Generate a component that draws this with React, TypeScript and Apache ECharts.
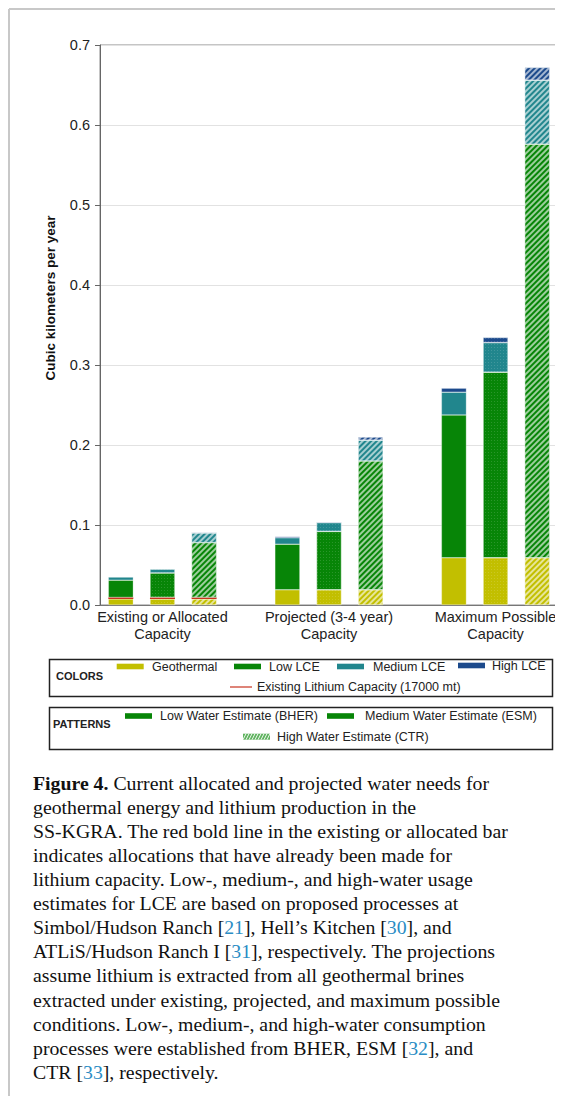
import React, { useEffect, useRef } from "react";
import * as echarts from "echarts";

// ---------- data ----------
const groupLabels = [
  "Existing or Allocated\nCapacity",
  "Projected (3-4 year)\nCapacity",
  "Maximum Possible\nCapacity",
];
const waterEstimates = ["BHER", "ESM", "CTR"]; // low / medium / high water estimate
// one value per bar: [group1 BHER, ESM, CTR, group2 BHER, ESM, CTR, group3 BHER, ESM, CTR]
const geothermal = [0.0075, 0.0075, 0.0075, 0.019, 0.019, 0.019, 0.059, 0.059, 0.059];
const existingLithium = [0.002, 0.002, 0.002, 0, 0, 0, 0, 0, 0];
const lowLCE = [0.0215, 0.0305, 0.0685, 0.057, 0.073, 0.161, 0.1785, 0.232, 0.517];
const mediumLCE = [0.004, 0.005, 0.012, 0.008, 0.011, 0.026, 0.0285, 0.037, 0.08];
const highLCE = [0.0005, 0.0005, 0.001, 0.0015, 0.001, 0.004, 0.005, 0.0065, 0.016];
const yMin = 0;
const yMax = 0.7;
const yStep = 0.1;

const yTitle = "Cubic kilometers per year";
const colorLegend = ["Geothermal", "Low LCE", "Medium LCE", "High LCE"];
const redLegend = "Existing Lithium Capacity (17000 mt)";
const patternLegend = ["Low Water Estimate (BHER)", "Medium Water Estimate (ESM)", "High Water Estimate (CTR)"];
const captionLines = [
  "{b|Figure 4.} Current allocated and projected water needs for",
  "geothermal energy and lithium production in the",
  "SS-KGRA. The red bold line in the existing or allocated bar",
  "indicates allocations that have already been made for",
  "lithium capacity. Low-, medium-, and high-water usage",
  "estimates for LCE are based on proposed processes at",
  "Simbol/Hudson Ranch [{c|21}], Hell’s Kitchen [{c|30}], and",
  "ATLiS/Hudson Ranch I [{c|31}], respectively. The projections",
  "assume lithium is extracted from all geothermal brines",
  "extracted under existing, projected, and maximum possible",
  "conditions. Low-, medium-, and high-water consumption",
  "processes were established from BHER, ESM [{c|32}], and",
  "CTR [{c|33}], respectively.",
];

// ---------- styles ----------
const C = {
  geo: "#c2bf00",
  red: "#c8321e",
  low: "#078507",
  med: "#21868d",
  high: "#1c4a8c",
};
const SANS = '"Liberation Sans", Arial, sans-serif';
const SERIF = '"Liberation Serif", "Times New Roman", serif';

const dotted: any = {
  symbol: "rect",
  symbolSize: 1,
  dashArrayX: [1, 2],
  dashArrayY: [1, 2],
  color: "rgba(255,255,255,0.14)",
};
const hatch: any = {
  symbol: "rect",
  symbolSize: 1,
  dashArrayX: [1, 0],
  dashArrayY: [1.3, 1.5],
  rotation: -Math.PI / 4,
  color: "rgba(255,255,255,0.6)",
};

const slots: string[] = [];
groupLabels.forEach((g, gi) => {
  waterEstimates.forEach((w) => slots.push(g + "|" + w));
  if (gi < groupLabels.length - 1) slots.push("gap" + gi);
});

function makeSeries(name: string, vals: number[], color: string, usePattern = true) {
  let k = 0;
  const data = slots.map((s) => {
    if (s.startsWith("gap")) return "-";
    const v = vals[k];
    const p = k % 3;
    k++;
    if (!v) return "-";
    const decal = usePattern ? (p === 1 ? dotted : p === 2 ? hatch : null) : null;
    return { value: v, itemStyle: decal ? { color, decal } : { color } };
  });
  return {
    type: "bar",
    name,
    stack: "total",
    barWidth: 25,
    data,
    itemStyle: { color, borderColor: "rgba(255,255,255,0.55)", borderWidth: usePattern ? 0.5 : 0 },
    emphasis: { disabled: true },
  };
}

function buildGraphic() {
  const g: any[] = [];
  // page frame
  g.push({ type: "line", shape: { x1: 1, y1: 1, x2: 560, y2: 1 }, style: { stroke: "#c8c8c8", lineWidth: 2 } });
  g.push({ type: "line", shape: { x1: 1, y1: 1, x2: 1, y2: 1100 }, style: { stroke: "#c8c8c8", lineWidth: 2 } });
  // y title
  g.push({
    type: "text",
    x: 42,
    y: 290,
    rotation: Math.PI / 2,
    style: { text: yTitle, font: `bold 13.5px ${SANS}`, fill: "#111", align: "center", verticalAlign: "middle" },
  });
  // legend boxes
  g.push({ type: "rect", shape: { x: 41.5, y: 651.5, width: 503, height: 37 }, style: { fill: "none", stroke: "#222", lineWidth: 1.5 } });
  g.push({ type: "rect", shape: { x: 41.5, y: 699.5, width: 503, height: 42 }, style: { fill: "none", stroke: "#222", lineWidth: 1.5 } });
  const lab = (text: string, x: number, y: number, bold = false) => ({
    type: "text",
    x,
    y,
    style: {
      text,
      font: bold ? `bold 11px ${SANS}` : `12.5px ${SANS}`,
      fill: "#222",
      align: "left",
      verticalAlign: "middle",
    },
  });
  const sw = (x: number, y: number, color: string) => ({
    type: "rect",
    shape: { x, y: y - 2.8, width: 27, height: 5.6 },
    style: { fill: color },
  });
  g.push(lab("COLORS", 48, 668, true));
  const colorSw = [C.geo, C.low, C.med, C.high];
  const csx = [108.7, 226, 329, 450];
  const ctx = [144, 261, 365, 484];
  const cy = [658.5, 658.5, 658.5, 657.5];
  colorLegend.forEach((t, i) => {
    g.push(sw(csx[i], cy[i], colorSw[i]));
    g.push(lab(t, ctx[i], cy[i]));
  });
  g.push({ type: "line", shape: { x1: 222, y1: 679, x2: 244, y2: 679 }, style: { stroke: C.red, lineWidth: 1.2 } });
  g.push(lab(redLegend, 249, 679));

  g.push(lab("PATTERNS", 45, 716, true));
  g.push(sw(117, 708, C.low));
  g.push(lab(patternLegend[0], 152, 708));
  g.push(sw(319, 708, C.low));
  g.push(lab(patternLegend[1], 357, 708));
  g.push({ type: "rect", shape: { x: 235, y: 725.7, width: 27, height: 6 }, style: { fill: "#5fb35f" } });
  for (let i = 0; i < 9; i++) {
    const x = 235 + i * 3;
    g.push({ type: "line", shape: { x1: x, y1: 731.7, x2: x + 3, y2: 725.7 }, style: { stroke: "#ffffff", lineWidth: 0.9 } });
  }
  g.push(lab(patternLegend[2], 269, 728.7));

  // caption
  captionLines.forEach((line, i) => {
    g.push({
      type: "text",
      x: 25,
      y: 775 + i * 24.06,
      style: {
        text: line,
        fontFamily: SERIF,
        fontSize: 19.8,
        fill: "#111",
        align: "left",
        verticalAlign: "middle",
        rich: {
          b: { fontFamily: SERIF, fontSize: 19.8, fontWeight: "bold", fill: "#111" },
          c: { fontFamily: SERIF, fontSize: 19.8, fill: "#2a8cc4" },
        },
      },
    });
  });
  return g;
}

const option: any = {
  animation: false,
  backgroundColor: "#ffffff",
  grid: { left: 92, top: 37, width: 458, height: 560, show: true, borderColor: "#8a8a8a", borderWidth: 1, containLabel: false },
  xAxis: {
    type: "category",
    data: slots,
    axisLine: { show: true, lineStyle: { color: "#777", width: 1 } },
    axisTick: { show: false },
    axisLabel: {
      interval: 0,
      margin: 4,
      fontSize: 14.5,
      fontFamily: SANS,
      color: "#222",
      lineHeight: 16.5,
      formatter: (v: string) => {
        const parts = v.split("|");
        return parts[1] === waterEstimates[1] ? parts[0] : "";
      },
    },
    splitLine: { show: false },
  },
  yAxis: {
    type: "value",
    min: yMin,
    max: yMax,
    interval: yStep,
    axisLine: { show: true, lineStyle: { color: "#666", width: 1 } },
    axisTick: { show: true, length: 5, lineStyle: { color: "#666" } },
    axisLabel: {
      margin: 10,
      fontSize: 14.5,
      fontFamily: SANS,
      color: "#222",
      formatter: (v: number) => v.toFixed(1),
    },
    splitLine: { show: true, lineStyle: { color: "#e2e2e2", width: 1 } },
  },
  series: [
    makeSeries("Geothermal", geothermal, C.geo),
    makeSeries("Existing Lithium Capacity", existingLithium, C.red, false),
    makeSeries("Low LCE", lowLCE, C.low),
    makeSeries("Medium LCE", mediumLCE, C.med),
    makeSeries("High LCE", highLCE, C.high),
  ],
  graphic: buildGraphic(),
};

export default function App() {
  const ref = useRef<HTMLDivElement>(null);
  useEffect(() => {
    document.documentElement.style.overflow = "hidden";
    document.body.style.overflow = "hidden";
    const chart = echarts.init(ref.current as HTMLDivElement, null, { renderer: "svg" });
    chart.setOption(option);
    return () => chart.dispose();
  }, []);
  return <div ref={ref} style={{ width: 555, height: 1088 }} />;
}
